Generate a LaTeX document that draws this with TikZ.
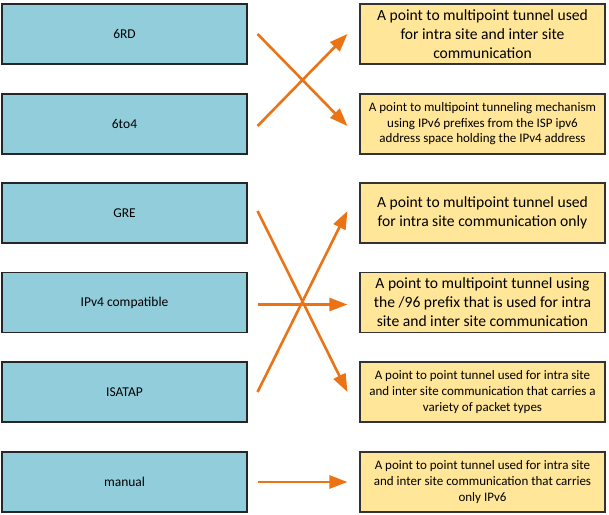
\documentclass[tikz,border=0pt]{standalone}
\usepackage{fontspec}
\setmainfont{Carlito}
\usetikzlibrary{arrows.meta,calc}
\definecolor{tunnelblue}{HTML}{92CDDC}
\definecolor{descyellow}{HTML}{FFE699}
\definecolor{linkorange}{HTML}{EC7314}
\tikzset{
  namebox/.style={draw=black!85,line width=1.1pt,fill=tunnelblue,minimum width=245pt,
    minimum height=60pt,inner sep=0pt,font=\fontsize{13.5}{15}\selectfont},
  descbox/.style={draw=black!80,line width=1.1pt,fill=descyellow,minimum width=245pt,
    minimum height=60pt,inner sep=0pt,align=center},
  bigtxt/.style={font=\fontsize{15.6}{19}\selectfont},
  smalltxt/.style={font=\fontsize{13}{15.6}\selectfont},
  link/.style={draw=linkorange,line width=2.6pt,-{Triangle[length=18pt,width=13pt]}}
}
\begin{document}
\begin{tikzpicture}[x=1pt,y=-1pt]
      \useasboundingbox (0,0) rectangle (609,514);
      \draw
        (124.5,34) node[namebox] (rd){6RD}
        (124.5,124) node[namebox] (to4){6to4}
        (124.5,213) node[namebox] (gre){GRE}
        (124.5,302.5) node[namebox] (compat){IPv4 compatible}
        (124.5,392) node[namebox] (isatap){ISATAP}
        (124.5,482) node[namebox] (manual){manual};
      \draw
        (482.5,34) node[descbox,bigtxt] (d1){A point to multipoint tunnel used\\for intra site and inter site\\communication}
        (482.5,124) node[descbox,smalltxt] (d2){A point to multipoint tunneling mechanism\\using IPv6 prefixes from the ISP ipv6\\address space holding the IPv4 address}
        (482.5,213) node[descbox,bigtxt] (d3){A point to multipoint tunnel used\\for intra site communication only}
        (482.5,302.5) node[descbox,bigtxt] (d4){A point to multipoint tunnel using\\the /96 prefix that is used for intra\\site and inter site communication}
        (482.5,392) node[descbox,smalltxt] (d5){A point to point tunnel used for intra site\\and inter site communication that carries a\\variety of packet types}
        (482.5,482) node[descbox,smalltxt] (d6){A point to point tunnel used for intra site\\and inter site communication that carries\\only IPv6};
      \begin{scope}[link]
        \draw ($(rd.east)+(10,0)$) to ($(d2.west)+(-12,2)$);
        \draw ($(to4.east)+(10,2)$) to ($(d1.west)+(-12,0)$);
        \draw ($(gre.east)+(10,-2)$) to ($(d5.west)+(-12,0)$);
        \draw ($(compat.east)+(10,2)$) to ($(d4.west)+(-12,2)$);
        \draw ($(isatap.east)+(10,0)$) to ($(d3.west)+(-12,-2)$);
        \draw ($(manual.east)+(10,0)$) to ($(d6.west)+(-12,0)$);
      \end{scope}
    \end{tikzpicture}
\end{document}
